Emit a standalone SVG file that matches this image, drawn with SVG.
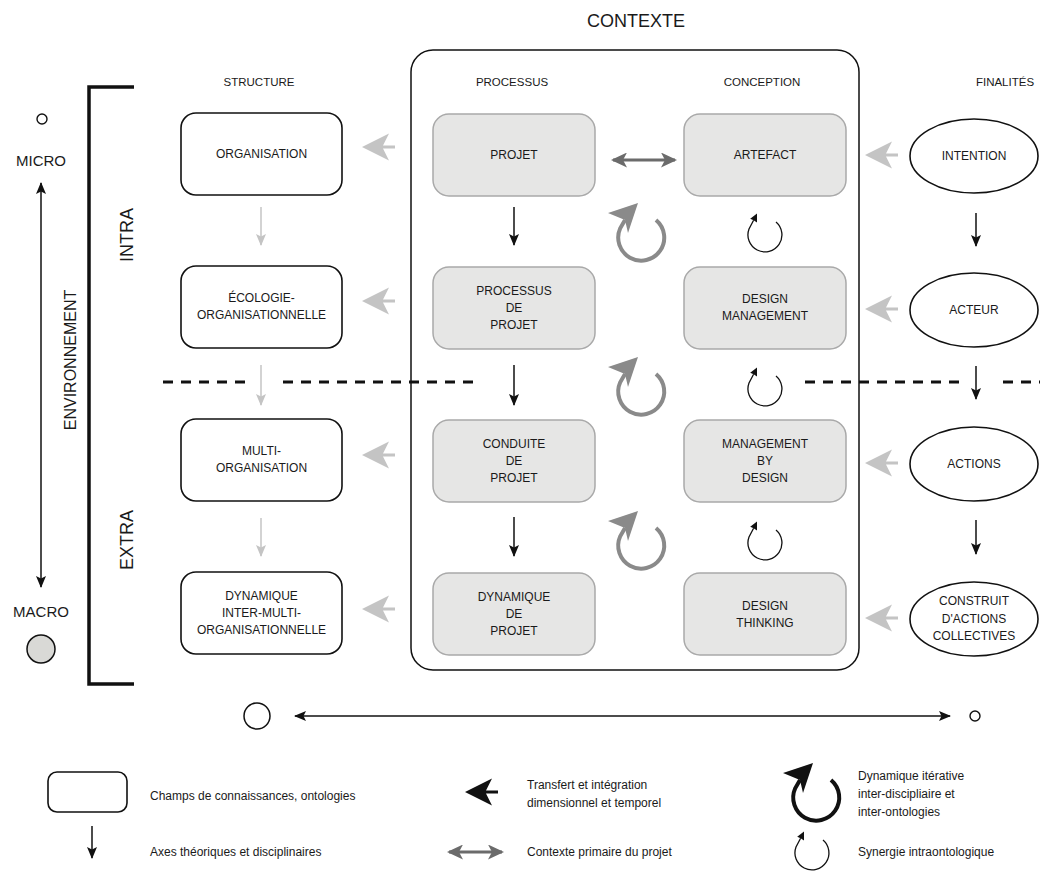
<svg xmlns="http://www.w3.org/2000/svg" width="1040" height="873" viewBox="0 0 1040 873">
  <style>
    text { font-family: "Liberation Sans", Arial, sans-serif; fill: #1a1a1a; }
    .lbl { font-size: 12px; text-anchor: middle; }
    .hdr { font-size: 11.5px; text-anchor: middle; }
    .big { font-size: 18px; text-anchor: middle; }
    .side { font-size: 15px; text-anchor: middle; }
    .leg { font-size: 12px; }
    .struct rect { fill: #fff; stroke: #111; stroke-width: 1.6; }
    .proc rect { fill: #e6e6e5; stroke: #a9a9a9; stroke-width: 1.5; }
    .fin ellipse { fill: #fff; stroke: #111; stroke-width: 1.6; }
    .down { stroke: #111; stroke-width: 1.5; fill: none; marker-end: url(#ahK); }
    .downg { stroke: #c4c4c4; stroke-width: 1.5; fill: none; marker-end: url(#ahL); }
    .axis { stroke: #111; stroke-width: 1.5; fill: none; marker-start: url(#ahA); marker-end: url(#ahA); }
    .dash { stroke: #111; stroke-width: 3; stroke-dasharray: 10 8; fill: none; }
    .ctx { stroke: #6b6b6b; stroke-width: 3; fill: none; marker-start: url(#ahD); marker-end: url(#ahD); }
  </style>
  <defs>
    <marker id="ahK" viewBox="0 0 12 10" refX="11" refY="5" markerWidth="12" markerHeight="10" markerUnits="userSpaceOnUse" orient="auto">
      <path d="M0,0 L12,5 L0,10 L2.5,5 Z" fill="#111"/>
    </marker>
    <marker id="ahL" viewBox="0 0 12 10" refX="11" refY="5" markerWidth="12" markerHeight="10" markerUnits="userSpaceOnUse" orient="auto">
      <path d="M0,0 L12,5 L0,10 L2.5,5 Z" fill="#c4c4c4"/>
    </marker>
    <marker id="ahA" viewBox="0 0 12 10" refX="11" refY="5" markerWidth="12" markerHeight="10" markerUnits="userSpaceOnUse" orient="auto-start-reverse">
      <path d="M0,0 L12,5 L0,10 L2.5,5 Z" fill="#111"/>
    </marker>
    <marker id="ahD" viewBox="0 0 16 15" refX="14" refY="7.5" markerWidth="16" markerHeight="15" markerUnits="userSpaceOnUse" orient="auto-start-reverse">
      <path d="M0,0 L16,7.5 L0,15 L4,7.5 Z" fill="#6b6b6b"/>
    </marker>
    <!-- fletched left-pointing arrow, tip at origin -->
    <path id="fletch" d="M0,0 L27,-13.5 L21,-1.5 L33,-1.5 L33,1.5 L21,1.5 L27,13.5 Z"/>
    <!-- large iterative loop, centred on origin -->
    <g id="loopBig">
      <path d="M15,-18 A23 23 0 1 1 -20.8,-9.7 L-16,-18" fill="none" stroke="currentColor" stroke-width="4"/>
      <path d="M-3,-35 L-33,-25 L-16,-18 L-13,-5 Z" fill="currentColor"/>
    </g>
    <!-- small synergy loop, centred on origin -->
    <g id="loopSmall">
      <path d="M11,-13 A17 17 0 1 1 -16,-6 L-11.4,-14.8" fill="none" stroke="currentColor" stroke-width="1.3"/>
      <path d="M-8,-21.5 L-14.8,-16.3 L-11.4,-14.8 L-8,-12.6 Z" fill="currentColor"/>
    </g>
  </defs>

  <rect width="1040" height="873" fill="#fff"/>

  <!-- titles -->
  <text class="big" x="636" y="27">CONTEXTE</text>
  <text class="hdr" x="259" y="86">STRUCTURE</text>
  <text class="hdr" x="512" y="86">PROCESSUS</text>
  <text class="hdr" x="762" y="86">CONCEPTION</text>
  <text class="hdr" x="1005" y="86">FINALITÉS</text>

  <!-- context frame -->
  <rect x="411" y="50" width="448" height="620" rx="22" fill="none" stroke="#111" stroke-width="1.5"/>

  <!-- scale axis and environment bracket -->
  <g id="scale">
    <circle cx="42" cy="119" r="5" fill="#fff" stroke="#111" stroke-width="1.4"/>
    <text class="side" x="41" y="166">MICRO</text>
    <text class="side" x="41" y="617">MACRO</text>
    <circle cx="41" cy="649" r="14" fill="#d9d9d6" stroke="#111" stroke-width="1.5"/>
    <path d="M134,87 H89 V684 H134" fill="none" stroke="#111" stroke-width="3.5"/>
    <text class="big" font-size="16" transform="translate(76,360) rotate(-90)" style="font-size:16px">ENVIRONNEMENT</text>
    <text class="big" transform="translate(133,235) rotate(-90)">INTRA</text>
    <text class="big" transform="translate(133,540) rotate(-90)">EXTRA</text>
    <circle cx="257" cy="716" r="13" fill="#fff" stroke="#111" stroke-width="1.5"/>
    <circle cx="975" cy="716" r="5" fill="#fff" stroke="#111" stroke-width="1.4"/>
  </g>

  <!-- structure column -->
  <g id="n-organisation" class="struct">
    <rect x="181" y="113" width="161" height="82" rx="15"/>
    <text class="lbl" x="261.5" y="158">ORGANISATION</text>
  </g>
  <g id="n-ecologie" class="struct">
    <rect x="181" y="266" width="161" height="82" rx="15"/>
    <text class="lbl" x="261.5" y="302">ÉCOLOGIE-</text>
    <text class="lbl" x="261.5" y="319">ORGANISATIONNELLE</text>
  </g>
  <g id="n-multi" class="struct">
    <rect x="181" y="419" width="161" height="82" rx="15"/>
    <text class="lbl" x="261.5" y="455">MULTI-</text>
    <text class="lbl" x="261.5" y="472">ORGANISATION</text>
  </g>
  <g id="n-dynamique-org" class="struct">
    <rect x="181" y="572" width="161" height="82" rx="15"/>
    <text class="lbl" x="261.5" y="600">DYNAMIQUE</text>
    <text class="lbl" x="261.5" y="617">INTER-MULTI-</text>
    <text class="lbl" x="261.5" y="634">ORGANISATIONNELLE</text>
  </g>

  <!-- processus column -->
  <g id="n-projet" class="proc">
    <rect x="433" y="114" width="162" height="82" rx="16"/>
    <text class="lbl" x="514" y="159">PROJET</text>
  </g>
  <g id="n-processus" class="proc">
    <rect x="433" y="267" width="162" height="82" rx="16"/>
    <text class="lbl" x="514" y="295">PROCESSUS</text>
    <text class="lbl" x="514" y="312">DE</text>
    <text class="lbl" x="514" y="329">PROJET</text>
  </g>
  <g id="n-conduite" class="proc">
    <rect x="433" y="420" width="162" height="82" rx="16"/>
    <text class="lbl" x="514" y="448">CONDUITE</text>
    <text class="lbl" x="514" y="465">DE</text>
    <text class="lbl" x="514" y="482">PROJET</text>
  </g>
  <g id="n-dynamique-projet" class="proc">
    <rect x="433" y="573" width="162" height="82" rx="16"/>
    <text class="lbl" x="514" y="601">DYNAMIQUE</text>
    <text class="lbl" x="514" y="618">DE</text>
    <text class="lbl" x="514" y="635">PROJET</text>
  </g>

  <!-- conception column -->
  <g id="n-artefact" class="proc">
    <rect x="684" y="114" width="162" height="82" rx="16"/>
    <text class="lbl" x="765" y="159">ARTEFACT</text>
  </g>
  <g id="n-design-management" class="proc">
    <rect x="684" y="267" width="162" height="82" rx="16"/>
    <text class="lbl" x="765" y="303">DESIGN</text>
    <text class="lbl" x="765" y="320">MANAGEMENT</text>
  </g>
  <g id="n-management-by-design" class="proc">
    <rect x="684" y="420" width="162" height="82" rx="16"/>
    <text class="lbl" x="765" y="448">MANAGEMENT</text>
    <text class="lbl" x="765" y="465">BY</text>
    <text class="lbl" x="765" y="482">DESIGN</text>
  </g>
  <g id="n-design-thinking" class="proc">
    <rect x="684" y="573" width="162" height="82" rx="16"/>
    <text class="lbl" x="765" y="610">DESIGN</text>
    <text class="lbl" x="765" y="627">THINKING</text>
  </g>

  <!-- finalités column -->
  <g id="n-intention" class="fin">
    <ellipse cx="974" cy="156" rx="64" ry="37"/>
    <text class="lbl" x="974" y="160">INTENTION</text>
  </g>
  <g id="n-acteur" class="fin">
    <ellipse cx="974" cy="310" rx="64" ry="37"/>
    <text class="lbl" x="974" y="314">ACTEUR</text>
  </g>
  <g id="n-actions" class="fin">
    <ellipse cx="974" cy="464" rx="64" ry="37"/>
    <text class="lbl" x="974" y="468">ACTIONS</text>
  </g>
  <g id="n-construit" class="fin">
    <ellipse cx="974" cy="619" rx="64" ry="37"/>
    <text class="lbl" x="974" y="605">CONSTRUIT</text>
    <text class="lbl" x="974" y="622.5">D'ACTIONS</text>
    <text class="lbl" x="974" y="640">COLLECTIVES</text>
  </g>

  <!-- connectors -->
  <g id="connectors">
    <!-- intra / extra boundary -->
    <line class="dash" x1="163" y1="382" x2="245" y2="382"/>
    <line class="dash" x1="283" y1="382" x2="480" y2="382"/>
    <line class="dash" x1="805" y1="382" x2="960" y2="382"/>
    <line class="dash" x1="1003" y1="382" x2="1040" y2="382"/>

    <!-- micro / macro axes -->
    <line class="axis" x1="41" y1="183" x2="41" y2="587"/>
    <line class="axis" x1="295" y1="716" x2="950" y2="716"/>

    <!-- structure axis -->
    <line class="downg" x1="261" y1="207" x2="261" y2="245"/>
    <line class="downg" x1="261" y1="365" x2="261" y2="405"/>
    <line class="downg" x1="261" y1="518" x2="261" y2="556"/>

    <!-- processus axis -->
    <line class="down" x1="514" y1="207" x2="514" y2="245"/>
    <line class="down" x1="514" y1="365" x2="514" y2="405"/>
    <line class="down" x1="514" y1="517" x2="514" y2="556"/>

    <!-- finalités axis -->
    <line class="down" x1="976" y1="213" x2="976" y2="246"/>
    <line class="down" x1="976" y1="366" x2="976" y2="399"/>
    <line class="down" x1="976" y1="520" x2="976" y2="554"/>

    <!-- primary project context -->
    <line class="ctx" x1="613" y1="160" x2="675" y2="160"/>

    <!-- transfers toward structure -->
    <use href="#fletch" x="362" y="147" fill="#c4c4c4"/>
    <use href="#fletch" x="362" y="301" fill="#c4c4c4"/>
    <use href="#fletch" x="362" y="455" fill="#c4c4c4"/>
    <use href="#fletch" x="362" y="609" fill="#c4c4c4"/>
    <!-- transfers from finalités -->
    <use href="#fletch" x="865" y="155" fill="#c4c4c4"/>
    <use href="#fletch" x="865" y="309" fill="#c4c4c4"/>
    <use href="#fletch" x="865" y="463" fill="#c4c4c4"/>
    <use href="#fletch" x="865" y="618" fill="#c4c4c4"/>

    <!-- iterative dynamics -->
    <use href="#loopBig" x="641" y="238" color="#8a8a8a"/>
    <use href="#loopBig" x="641" y="392" color="#8a8a8a"/>
    <use href="#loopBig" x="641" y="546" color="#8a8a8a"/>
    <!-- intra-ontological synergy -->
    <use href="#loopSmall" x="765" y="235" color="#111"/>
    <use href="#loopSmall" x="765" y="389" color="#111"/>
    <use href="#loopSmall" x="765" y="543" color="#111"/>
  </g>

  <!-- legend -->
  <g id="legend">
    <rect x="48" y="772" width="79" height="40" rx="9" fill="#fff" stroke="#111" stroke-width="1.6"/>
    <text class="leg" x="150" y="800">Champs de connaissances, ontologies</text>
    <line class="down" x1="92" y1="826" x2="92" y2="858"/>
    <text class="leg" x="150" y="856">Axes théoriques et disciplinaires</text>

    <use href="#fletch" x="465" y="792" fill="#111"/>
    <text class="leg" x="527" y="789">Transfert et intégration</text>
    <text class="leg" x="527" y="807">dimensionnel et temporel</text>
    <line class="ctx" x1="449" y1="852" x2="502" y2="852"/>
    <text class="leg" x="527" y="856">Contexte primaire du projet</text>

    <use href="#loopBig" x="816" y="798" color="#111"/>
    <text class="leg" x="858" y="780">Dynamique itérative</text>
    <text class="leg" x="858" y="798">inter-discipliaire et</text>
    <text class="leg" x="858" y="816">inter-ontologies</text>
    <use href="#loopSmall" x="812" y="853" color="#111"/>
    <text class="leg" x="858" y="856">Synergie intraontologique</text>
  </g>
</svg>
